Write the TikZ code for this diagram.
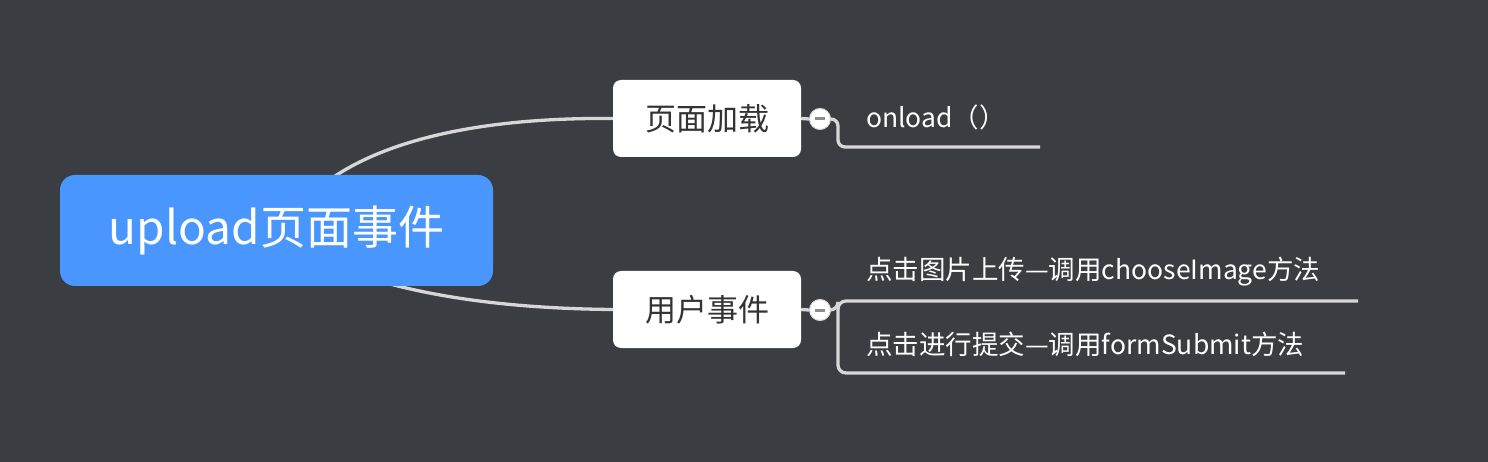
\documentclass[tikz,border=0pt]{standalone}
\usepackage{fontspec}
\setmainfont{Noto Sans CJK SC}
\usetikzlibrary{calc}
\definecolor{bgc}{RGB}{58,61,66}
\definecolor{rootc}{RGB}{73,150,255}
\definecolor{linec}{RGB}{215,215,215}
\definecolor{txtc}{RGB}{51,51,51}
\definecolor{minusc}{RGB}{140,140,140}
\pgfdeclarelayer{bglayer}
\pgfdeclarelayer{edgelayer}
\pgfsetlayers{bglayer,edgelayer,main}
\tikzset{
  rootbox/.style={fill=rootc, rounded corners=15pt, minimum width=433pt, minimum height=111pt, inner sep=0pt, text=white, font=\fontsize{46}{52}\selectfont},
  subbox/.style={fill=white, rounded corners=8pt, minimum width=188pt, minimum height=77pt, inner sep=0pt, text=txtc, font=\fontsize{31}{36}\selectfont},
  leaf/.style={anchor=west, inner sep=0pt, text=white, font=\fontsize{26.5}{30}\selectfont},
  conn/.style={draw=linec, line width=3.3pt},
  toggle/.style={circle, fill=white, draw=linec, line width=1pt, minimum size=21pt, inner sep=0pt},
}
\begin{document}
\begin{tikzpicture}[x=1pt,y=-1pt]
\begin{pgfonlayer}{bglayer}
\fill[bgc] (0,0) rectangle (1488,462);
\end{pgfonlayer}
\useasboundingbox (0,0) rectangle (1488,462);

\node[rootbox] (root) at (276.5,230.5) {upload页面事件};
\node[subbox] (load) at (707,118.5) {页面加载};
\node[subbox] (user) at (707,309.5) {用户事件};

\node[toggle] (t1) at (820,119) {};
\node[toggle] (t2) at (820,310) {};
\draw[minusc, line width=3pt] ($(t1)+(-5,0)$) -- ($(t1)+(5,0)$);
\draw[minusc, line width=3pt] ($(t2)+(-5,0)$) -- ($(t2)+(5,0)$);

\node[leaf] (onload) at (866,117) {onload（）};
\node[leaf] (choose) at (866,272) {点击图片上传—调用chooseImage方法};
\node[leaf] (submit) at (866,344) {点击进行提交—调用formSubmit方法};

\coordinate (e1) at (1040,147);
\coordinate (e2) at (1358,301);
\coordinate (e3) at (1345,373);

\begin{pgfonlayer}{edgelayer}
\draw[conn] ($(root.center)+(20,-20)$) .. controls (345,150) and (455,117) .. (load.west);
\draw[conn] ($(root.center)+(4,10)$) .. controls (350,280) and (450,308) .. (user.west);
\draw[conn] (load.east) -- (t1.west);
\draw[conn] (user.east) -- (t2.west);
\draw[conn, rounded corners=7pt] (t1.east) -- (838,119) -- (838,147) -- (e1);
\draw[conn, rounded corners=8pt] (t2.east) -- (838,310) |- (e2);
\draw[conn, rounded corners=8pt] (838,305) |- (e3);
\end{pgfonlayer}
\end{tikzpicture}
\end{document}
